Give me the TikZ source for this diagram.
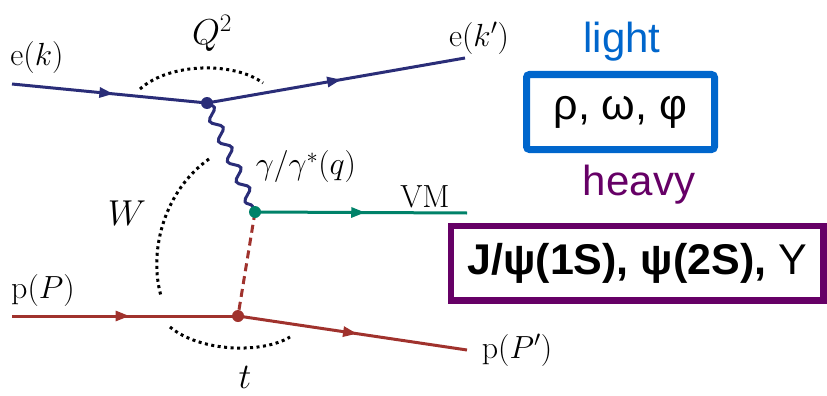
\RequirePackage{fix-cm}
\documentclass[tikz,border=0pt]{standalone}
\usepackage{fontspec}
\setsansfont{Liberation Sans}
\usetikzlibrary{arrows.meta,decorations.markings,decorations.pathmorphing}
\definecolor{eblue}{RGB}{42,45,120}
\definecolor{vgreen}{RGB}{0,130,105}
\definecolor{pred}{RGB}{160,50,45}
\definecolor{lblue}{RGB}{0,102,204}
\definecolor{hpurple}{RGB}{102,0,102}
\tikzset{
  fermion/.style={line width=3pt, postaction={decorate},
    decoration={markings, mark=at position 0.52 with {\arrow{Triangle[length=14pt,width=10pt]}}}},
  vtx/.style={circle, fill, inner sep=0pt, minimum size=12pt},
  lab/.style={font=\fontsize{32}{38}\selectfont, inner sep=0pt},
  biglab/.style={font=\fontsize{36}{42}\selectfont, inner sep=0pt},
  dotarc/.style={line width=3pt, dash pattern=on 3pt off 3.5pt, black},
  photon/.style={line width=3pt, eblue, decorate,
    decoration={snake, amplitude=5pt, segment length=22pt}},
  sflab/.style={font=\fontsize{42}{50}\selectfont\sffamily, inner sep=0pt},
}
\begin{document}
\begin{tikzpicture}[x=1pt,y=-1pt]
\useasboundingbox (0,0) rectangle (827,396);
% coordinates
\coordinate (ek) at (12,84);
\coordinate (ev) at (207,103);
\coordinate (ekp) at (465,58);
\coordinate (gv) at (255,212);
\coordinate (vmend) at (467,213);
\coordinate (pP) at (12,316);
\coordinate (pv) at (238,316);
\coordinate (pPp) at (467,350);
% lines
\draw[fermion, eblue] (ek) -- (ev);
\draw[fermion, eblue] (ev) -- (ekp);
\draw[photon] (ev) -- (gv);
\draw[fermion, vgreen] (gv) -- (vmend);
\draw[line width=3pt, pred, dash pattern=on 8pt off 5pt] (gv) -- (pv);
\draw[fermion, pred] (pP) -- (pv);
\draw[fermion, pred] (pv) -- (pPp);
% vertices
\node[vtx, eblue] (evd) at (ev) {};
\node[vtx, vgreen] (gvd) at (gv) {};
\node[vtx, pred] (pvd) at (pv) {};
% dotted arcs
\draw[dotarc] (140,89) .. controls (170,62) and (235,62) .. (263,83);
\draw[dotarc] (209,159) .. controls (165,190) and (148,250) .. (161,296);
\draw[dotarc] (170,327) .. controls (200,352) and (262,354) .. (290,337);
% labels
\node[lab] (lek) at (37,58) {$\mathrm{e}(k)$};
\node[lab] (lekp) at (479,38) {$\mathrm{e}(k')$};
\node[biglab] (lq) at (212,33) {$Q^2$};
\node[lab] (lg) at (306,167) {$\gamma/\gamma^{*}(q)$};
\node[lab] (lvm) at (425,197) {$\mathrm{VM}$};
\node[biglab] (lw) at (127,213) {$W$};
\node[lab] (lpP) at (43,290) {$\mathrm{p}(P)$};
\node[lab] (lpPp) at (517,350) {$\mathrm{p}(P')$};
\node[biglab] (lt) at (245,377) {$t$};
% right side
\node[sflab, text=lblue] (light) at (622,41.5) {light};
\node[draw=lblue, line width=7pt, rounded corners=3pt, minimum width=188pt, minimum height=75pt,
  font=\fontsize{43}{50}\selectfont\sffamily, inner sep=0pt] (lightbox) at (620.5,112) {ρ, ω, φ};
\node[sflab, text=hpurple] (heavy) at (639,185) {heavy};
\node[draw=hpurple, line width=6.5pt, minimum width=372.5pt, minimum height=74.5pt,
  font=\fontsize{43}{50}\selectfont\sffamily, inner sep=0pt] (heavybox) at (637.25,263.25)
  {\textbf{J/ψ(1S), ψ(2S),} Υ};
\end{tikzpicture}
\end{document}
